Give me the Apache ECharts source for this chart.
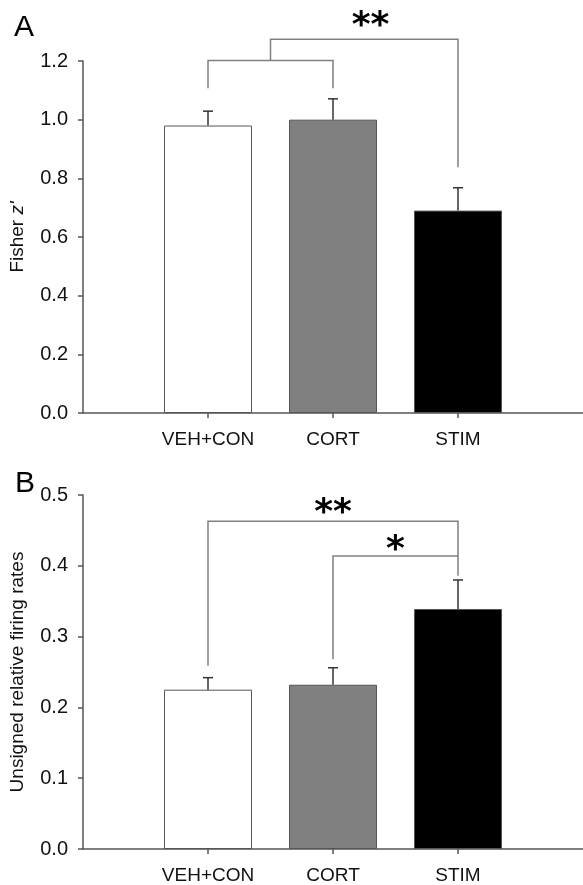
<!DOCTYPE html>
<html><head><meta charset="utf-8">
<script src="https://cdn.jsdelivr.net/npm/echarts@6/dist/echarts.min.js"></script>
<style>html,body{margin:0;padding:0;background:#fff}#c{width:583px;height:885px}</style>
</head><body><div id="c"></div>
<script>
// ---- data ----
const categories = ['VEH+CON', 'CORT', 'STIM'];
const categoryPos = [1, 2, 3];
const barColors = ['#ffffff', '#808080', '#000000'];

// Panel A: Fisher z'
const fisherMean = [0.98, 1.00, 0.69];
const fisherErrTop = [1.029, 1.071, 0.768];
// Panel B: unsigned relative firing rates
const rateMean = [0.225, 0.232, 0.339];
const rateErrTop = [0.242, 0.256, 0.380];

// significance brackets (x position, y value) polylines
const bracketsA = [
  [[1, 1.107], [1, 1.202], [2, 1.202], [2, 1.107]],
  [[1.5, 1.202], [1.5, 1.274], [3, 1.274], [3, 0.838]]
];
const bracketsB = [
  [[1, 0.259], [1, 0.463], [3, 0.463], [3, 0.386]],
  [[2, 0.268], [2, 0.414], [3, 0.414]]
];
// star labels: [x, y, text]
const starsA = [[2.3, 1.318, '**']];
const starsB = [[2.0, 0.473, '**'], [2.5, 0.422, '*']];

const yTicksA = [0, 1.2, 0.2];
const yTicksB = [0, 0.5, 0.1];

// ---- chart ----
const FONT = "'Liberation Sans', Arial, sans-serif";
const chart = echarts.init(document.getElementById('c'), null, {renderer: 'canvas'});

function xAxisCfg(gi) {
  return {
    type: 'value', gridIndex: gi, min: 0, max: 4,
    axisLine: {show: true, lineStyle: {color: '#555', width: 1.5}},
    axisTick: {show: true, length: 5, customValues: categoryPos, lineStyle: {color: '#555', width: 1.5}},
    axisLabel: {customValues: categoryPos, formatter: v => categories[Math.round(v) - 1] || '',
      fontFamily: FONT, fontSize: 19, color: '#111', margin: 17},
    splitLine: {show: false}
  };
}
function yAxisCfg(gi, ticks, nameObj) {
  return Object.assign({
    type: 'value', gridIndex: gi, min: ticks[0], max: ticks[1], interval: ticks[2],
    axisLine: {show: true, lineStyle: {color: '#555', width: 1.5}},
    axisTick: {show: true, length: 5, lineStyle: {color: '#555', width: 1.5}},
    axisLabel: {formatter: v => v.toFixed(1), fontFamily: FONT, fontSize: 20, color: '#111', margin: 15},
    splitLine: {show: false},
    nameLocation: 'middle', nameGap: 56,
    nameTextStyle: {fontFamily: FONT, fontSize: 19, color: '#111'}
  }, nameObj);
}
function barSeries(gi, vals) {
  return {
    type: 'bar', xAxisIndex: gi, yAxisIndex: gi, barWidth: 88,
    data: vals.map((v, i) => ({value: [categoryPos[i], v],
      itemStyle: {color: barColors[i], borderColor: '#555', borderWidth: 1}})),
    silent: true
  };
}
function errSeries(gi, means, tops) {
  return {
    type: 'custom', xAxisIndex: gi, yAxisIndex: gi, clip: false, silent: true, z: 5,
    data: means.map((m, i) => [categoryPos[i], m, tops[i]]),
    renderItem: (params, api) => {
      const p0 = api.coord([api.value(0), api.value(1)]);
      const p1 = api.coord([api.value(0), api.value(2)]);
      const st = {stroke: '#333', lineWidth: 1.5};
      return {type: 'group', children: [
        {type: 'line', shape: {x1: p0[0], y1: p0[1], x2: p1[0], y2: p1[1]}, style: st},
        {type: 'line', shape: {x1: p1[0] - 5, y1: p1[1], x2: p1[0] + 5, y2: p1[1]}, style: st}
      ]};
    }
  };
}
function bracketSeries(gi, brackets) {
  return {
    type: 'custom', xAxisIndex: gi, yAxisIndex: gi, clip: false, silent: true, z: 4,
    data: brackets.map((b, i) => [i]),
    renderItem: (params, api) => {
      const pts = brackets[params.dataIndex].map(p => api.coord(p));
      return {type: 'polyline', shape: {points: pts}, style: {stroke: '#808080', lineWidth: 1.5, fill: null}};
    }
  };
}
function starSeries(gi, stars) {
  return {
    type: 'custom', xAxisIndex: gi, yAxisIndex: gi, clip: false, silent: true, z: 6,
    data: stars.map(s => [s[0], s[1]]),
    renderItem: (params, api) => {
      const p = api.coord([api.value(0), api.value(1)]);
      return {type: 'text', x: p[0], y: p[1], style: {text: stars[params.dataIndex][2],
        fontFamily: "'DejaVu Sans', sans-serif", fontWeight: 'bold', fontSize: 36,
        fill: '#000', align: 'center', verticalAlign: 'middle'}};
    }
  };
}

chart.setOption({
  animation: false,
  backgroundColor: '#fff',
  title: [
    {text: 'A', left: 9, top: 8, textStyle: {fontFamily: FONT, fontSize: 30, fontWeight: 'normal', color: '#000'}},
    {text: 'B', left: 10, top: 464, textStyle: {fontFamily: FONT, fontSize: 30, fontWeight: 'normal', color: '#000'}}
  ],
  grid: [
    {left: 83, right: 0, top: 61, bottom: 472, containLabel: false},
    {left: 83, right: 0, top: 495, bottom: 36, containLabel: false}
  ],
  xAxis: [xAxisCfg(0), xAxisCfg(1)],
  yAxis: [
    yAxisCfg(0, yTicksA, {name: "Fisher {i|z'}", nameTextStyle: {fontFamily: FONT, fontSize: 19, color: '#111',
      rich: {i: {fontStyle: 'italic', fontFamily: FONT, fontSize: 19, color: '#111'}}}}),
    yAxisCfg(1, yTicksB, {name: 'Unsigned relative firing rates'})
  ],
  series: [
    barSeries(0, fisherMean), errSeries(0, fisherMean, fisherErrTop),
    bracketSeries(0, bracketsA), starSeries(0, starsA),
    barSeries(1, rateMean), errSeries(1, rateMean, rateErrTop),
    bracketSeries(1, bracketsB), starSeries(1, starsB)
  ]
});
</script></body></html>
